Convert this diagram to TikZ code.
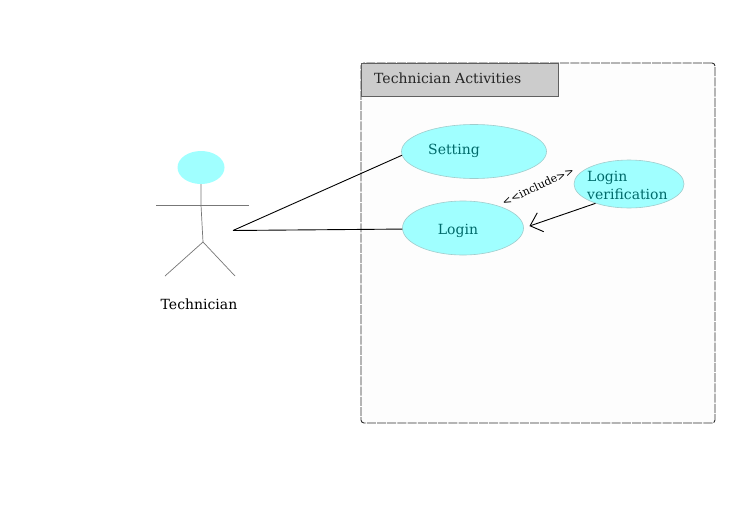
\documentclass[tikz,border=0pt]{standalone}
\usepackage{fontspec}
\setmainfont{DejaVu Serif}
\usetikzlibrary{arrows.meta,shapes.geometric}
\definecolor{ucfill}{HTML}{A0FFFF}
\definecolor{ucline}{HTML}{A0CCCC}
\definecolor{uctext}{HTML}{006A6A}
\definecolor{hdrfill}{HTML}{CCCCCC}
\definecolor{boxfill}{HTML}{FDFDFD}
\definecolor{boxline}{HTML}{303030}
\definecolor{hdrline}{HTML}{606060}
\definecolor{actorline}{HTML}{777777}
\tikzset{
  x=1pt,y=-1pt,
  usecase/.style={ellipse,draw=ucline,fill=ucfill,line width=.6pt,inner sep=0pt,minimum width=#1},
  uclabel/.style={text=uctext,font=\fontsize{14}{17}\selectfont,inner sep=0pt},
  plainlabel/.style={text=black,font=\fontsize{14}{17}\selectfont,inner sep=0pt},
  framebox/.style={draw=boxline,fill=boxfill,line width=.9pt,dash pattern=on 9pt off 1.2pt,rounded corners=3pt},
  limb/.style={draw=actorline,line width=.7pt},
  assoc/.style={draw=black,line width=.9pt},
}
\begin{document}
\begin{tikzpicture}
\useasboundingbox (0,0) rectangle (745,525);
\fill[white] (0,0) rectangle (745,525);
% frame
\node[framebox,minimum width=354pt,minimum height=360pt,inner sep=0pt] (frame) at (538,243) {};
\node[draw=hdrline,fill=hdrfill,line width=.8pt,minimum width=197pt,minimum height=33pt,inner sep=0pt] (hdr) at (459.5,79.5) {};
\node[plainlabel,anchor=west,text=black!85] (hdrtext) at (374,78) {Technician Activities};
% use cases
\node[usecase=145pt,minimum height=54pt] (setting) at (474,151.5) {};
\node[usecase=121pt,minimum height=54pt] (login) at (463,228) {};
\node[usecase=110pt,minimum height=48pt] (verif) at (629,184) {};
\node[uclabel] (settingtext) at (454,151) {Setting};
\node[uclabel] (logintext) at (458,231) {Login};
\node[uclabel,anchor=west] (veriftexta) at (587,177.5) {Login};
\node[uclabel,anchor=west] (veriftextb) at (587,194) {verification};
% actor
\node[ellipse,fill=ucfill,inner sep=0pt,minimum width=47pt,minimum height=33pt] (head) at (201,167.5) {};
\coordinate (hip) at (203,242);
\coordinate (armL) at (156,205);
\coordinate (armR) at (249,205);
\coordinate (neck) at (201,205);
\coordinate (footL) at (165,276);
\coordinate (footR) at (235,276);
\coordinate (hand) at (233,230.5);
\draw[limb] (head.south) -- (neck) -- (hip);
\draw[limb] (armL) -- (armR);
\draw[limb] (footL) -- (hip) -- (footR);
\node[plainlabel] (actorname) at (199,304) {Technician};
% connectors
\draw[assoc] (hand) -- (setting.183);
\draw[assoc] (hand) -- (login.181.5);
\draw[assoc,-{Straight Barb[length=11pt,width=20pt,line width=.9pt]},shorten >=6pt] (verif.210) -- (login.east);
\node[rotate=25,font=\fontsize{11}{12}\selectfont,inner sep=0pt] (incl) at (538,186) {<{}<include>{}>};
\end{tikzpicture}
\end{document}
